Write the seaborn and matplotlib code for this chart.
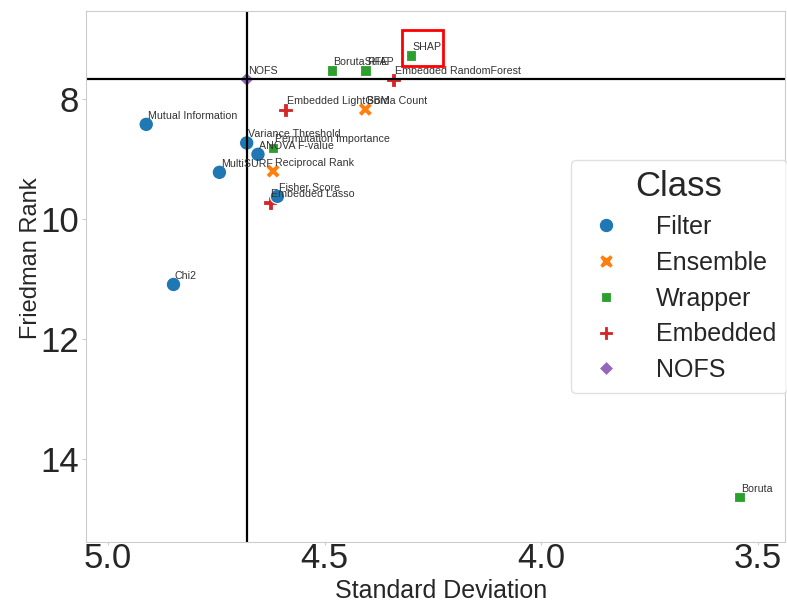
import matplotlib
matplotlib.use("Agg")
import matplotlib.pyplot as plt
import seaborn as sns
import pandas as pd
from matplotlib.patches import Rectangle

# ---- data ----
methods = ["NOFS", "Mutual Information", "Variance Threshold", "ANOVA F-value",
           "MultiSURF", "Embedded Lasso", "Fisher Score", "Chi2",
           "Borda Count", "Reciprocal Rank",
           "Boruta", "BorutaSHAP", "RFE", "SHAP", "Permutation Importance",
           "Embedded RandomForest", "Embedded LightGBM"]
classes = ["NOFS", "Filter", "Filter", "Filter",
           "Filter", "Embedded", "Filter", "Filter",
           "Ensemble", "Ensemble",
           "Wrapper", "Wrapper", "Wrapper", "Wrapper", "Wrapper",
           "Embedded", "Embedded"]
std_dev = [4.680, 4.912, 4.680, 4.654,
           4.743, 4.626, 4.609, 4.849,
           4.406, 4.619,
           3.542, 4.483, 4.406, 4.300, 4.619,
           4.341, 4.591]
friedman_rank = [7.67, 8.42, 8.73, 8.92,
                 9.22, 9.73, 9.62, 11.09,
                 8.17, 9.20,
                 14.64, 7.52, 7.52, 7.27, 8.81,
                 7.68, 8.18]
class_order = ["Filter", "Ensemble", "Wrapper", "Embedded", "NOFS"]
x_ticks = [5.0, 4.5, 4.0, 3.5]
y_ticks = [8, 10, 12, 14]

df = pd.DataFrame({"Method": methods, "Class": classes,
                   "Standard Deviation": std_dev, "Friedman Rank": friedman_rank})

sns.set_style("whitegrid")
plt.rcParams["font.family"] = ["Liberation Sans", "DejaVu Sans"]

fig = plt.figure(figsize=(7.87, 6.06), dpi=100)
ax = fig.add_axes([0.1093, 0.1061, 0.8882, 0.8757])

sns.scatterplot(data=df, x="Standard Deviation", y="Friedman Rank",
                hue="Class", style="Class", hue_order=class_order,
                style_order=class_order, s=110, ax=ax)

nofs = df[df["Class"] == "NOFS"].iloc[0]
ax.axvline(nofs["Standard Deviation"], color="black", lw=1.6)
ax.axhline(nofs["Friedman Rank"], color="black", lw=1.6)

for _, r in df.iterrows():
    ax.annotate(r["Method"], (r["Standard Deviation"], r["Friedman Rank"]),
                xytext=(1, 4), textcoords="offset points",
                ha="left", va="baseline", fontsize=7.7, color="0.2")

# highlight box around SHAP
shap = df[df["Method"] == "SHAP"].iloc[0]
ax.add_patch(Rectangle((shap["Standard Deviation"] - 0.074, shap["Friedman Rank"] - 0.43),
                       0.095, 0.61, fill=False, edgecolor="red", lw=2.0, zorder=5))

ax.set_xlim(5.051, 3.437)
ax.set_ylim(15.38, 6.53)
ax.set_xticks(x_ticks)
ax.set_yticks(y_ticks)
ax.grid(False)
ax.tick_params(axis="x", labelsize=25, length=2, color="0.8", bottom=True, pad=-1.5)
ax.tick_params(axis="y", labelsize=25, length=3, color="0.8", left=True, pad=2)
ax.set_xlabel("Standard Deviation", fontsize=18)
ax.xaxis.set_label_coords(0.5086, -0.0705)
ax.set_ylabel("Friedman Rank", fontsize=17)
ax.yaxis.set_label_coords(-0.063, 0.534)
for sp in ax.spines.values():
    sp.set_color("0.8")

leg = ax.legend(title="Class", loc="center right", bbox_to_anchor=(1.003, 0.5),
                fontsize=18, title_fontsize=25,
                markerscale=1.0, handletextpad=1.0, labelspacing=0.47,
                borderaxespad=0.0, borderpad=0.42, frameon=True)
leg.get_frame().set_edgecolor("0.85")

fig.savefig("out.png", dpi=100)
